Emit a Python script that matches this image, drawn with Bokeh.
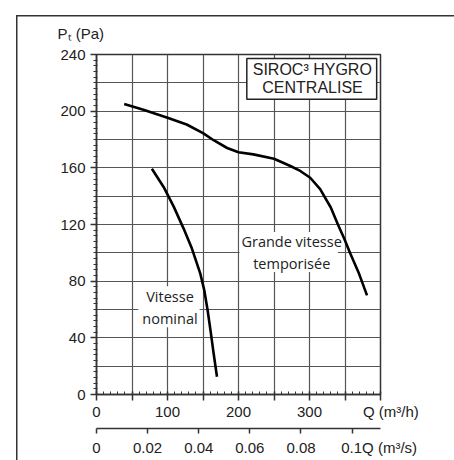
from bokeh.plotting import figure
from bokeh.models import (Range1d, LinearAxis, FixedTicker, Label, BoxAnnotation, Title)
from bokeh.embed import file_html
from bokeh.resources import INLINE

# ---- data ----
grande_q = [39, 66, 100, 127, 150, 165, 184, 200, 221, 250, 273, 287, 301, 315, 330, 340, 349, 357, 370, 381]
grande_p = [205, 201, 195.4, 190.6, 184.5, 179.5, 174, 171, 169.5, 166.4, 161.3, 157.8, 153, 145, 132, 120, 110, 100, 85, 70]

nominal_q = [78, 94.5, 108.6, 122.7, 134.4, 146.2, 151.8, 156.5, 161.2, 165, 169.7]
nominal_p = [159.4, 146.5, 132.8, 117.1, 103, 85.3, 73.6, 59.5, 43, 28.9, 12.5]

p_ticks = [0, 40, 80, 120, 160, 200, 240]
p_minor = list(range(0, 241, 4))
p_grid = list(range(0, 241, 20))
qh_ticks = [0, 50, 100, 150, 200, 250, 300, 350, 400]
qh_labels = {0: "0", 100: "100", 200: "200", 300: "300", 400: "\u00a0" * 5 + "Q (m³/h)"}
qh_minor = list(range(0, 401, 10))
qs_ticks = [0, 0.02, 0.04, 0.06, 0.08, 0.1]
qs_labels = ["0", "0.02", "0.04", "0.06", "0.08", "\u00a0" * 13 + "0.1Q (m³/s)"]

FONT = "Liberation Sans"
FONT2 = "Open Sans"
INK = "#222222"

p = figure(width=454, height=460, x_range=Range1d(0, 400), y_range=Range1d(0, 240),
           output_backend="svg", toolbar_location=None,
           min_border_left=96, min_border_right=74, min_border_top=54, min_border_bottom=66)
p.outline_line_color = "#333333"
p.outline_line_width = 1.5
p.background_fill_color = "white"
p.border_fill_alpha = 0
p.styles = {
    "background-color": "white",
    "background-image": "linear-gradient(#333333, #333333), linear-gradient(#333333, #333333)",
    "background-size": "1.5px 100%, 100% 1.5px",
    "background-position": "16px 15px, 16px 15px",
    "background-repeat": "no-repeat",
}

# y-axis title
t = Title(text="P\u209c (Pa)", align="left", offset=-39, standoff=25,
          text_font=FONT, text_font_size="15px", text_font_style="normal", text_color=INK)
p.add_layout(t, "above")

# grids
p.xgrid.ticker = FixedTicker(ticks=qh_ticks)
p.ygrid.ticker = FixedTicker(ticks=p_grid)
for g in (p.xgrid, p.ygrid):
    g.grid_line_color = "#555555"
    g.grid_line_width = 1.2

# left axis
ya = p.yaxis[0]
ya.ticker = FixedTicker(ticks=p_ticks, minor_ticks=p_minor)
ya.axis_line_color = "#333333"
ya.axis_line_width = 1.5
ya.major_tick_out = 6
ya.major_tick_in = 0
ya.major_tick_line_width = 1.5
ya.major_tick_line_color = "#333333"
ya.minor_tick_out = 3
ya.minor_tick_in = 1
ya.minor_tick_line_color = "#333333"
ya.major_label_standoff = 5
ya.major_label_text_font = FONT
ya.major_label_text_font_size = "15px"
ya.major_label_text_color = INK

# bottom axis m3/h
xa = p.xaxis[0]
xa.ticker = FixedTicker(ticks=qh_ticks, minor_ticks=qh_minor)
xa.major_label_overrides = {t_: qh_labels.get(t_, "") for t_ in qh_ticks}
xa.axis_line_color = "#333333"
xa.axis_line_width = 1.5
xa.major_tick_out = 6
xa.major_tick_in = 3
xa.major_tick_line_width = 1.5
xa.major_tick_line_color = "#333333"
xa.minor_tick_out = 0
xa.minor_tick_in = 3
xa.minor_tick_line_color = "#333333"
xa.major_label_standoff = 2
xa.major_label_text_font = FONT
xa.major_label_text_font_size = "15px"
xa.major_label_text_color = INK
xa.axis_label = " "
xa.axis_label_standoff = 0
xa.axis_label_text_font_size = "3px"

# bottom axis m3/s
p.extra_x_ranges = {"ms": Range1d(0, 400 / 3600)}
xs = LinearAxis(x_range_name="ms", ticker=FixedTicker(ticks=qs_ticks, minor_ticks=[]))
xs.major_label_overrides = {t_: lab_ for t_, lab_ in zip(qs_ticks, qs_labels)}
xs.axis_line_color = "#333333"
xs.axis_line_width = 1.5
xs.major_tick_out = 5
xs.major_tick_in = 0
xs.major_tick_line_width = 1.5
xs.major_tick_line_color = "#333333"
xs.major_label_standoff = 5
xs.major_label_text_font = FONT
xs.major_label_text_font_size = "15px"
xs.major_label_text_color = INK
p.add_layout(xs, "below")

# white boxes behind curve labels
p.add_layout(BoxAnnotation(left=201.5, right=340, top=114.7, bottom=86.5, fill_color="white",
                           fill_alpha=1, line_alpha=0, level="underlay"))
p.add_layout(BoxAnnotation(left=58.8, right=145.2, top=76.4, bottom=47.4, fill_color="white",
                           fill_alpha=1, line_alpha=0, level="underlay"))

# curves
p.line(grande_q, grande_p, line_color="black", line_width=2.6)
p.line(nominal_q, nominal_p, line_color="black", line_width=2.6)

# legend box
p.add_layout(BoxAnnotation(left=211.7, right=394.6, top=237.2, bottom=208.5, fill_color="white",
                           fill_alpha=1, line_color="#222222", line_width=1.5, line_alpha=1))

def lab(x, y, text, size="15px", font=FONT):
    p.add_layout(Label(x=x, y=y, text=text, text_font=font, text_font_size=size,
                       text_color=INK, text_align="center", text_baseline="middle"))

lab(303.9, 229.2, "SIROC³ HYGRO", size="16px")
lab(304.3, 216.9, "CENTRALISE", size="16px")
lab(274.8, 108.1, "Grande vitesse", size="14.5px", font=FONT2)
lab(275.0, 92.6, "temporisée", size="14.5px", font=FONT2)
lab(103.5, 69.3, "Vitesse", size="14.5px", font=FONT2)
lab(103.5, 54.0, "nominal", size="14.5px", font=FONT2)

open("out.html", "w").write(file_html(p, INLINE))
